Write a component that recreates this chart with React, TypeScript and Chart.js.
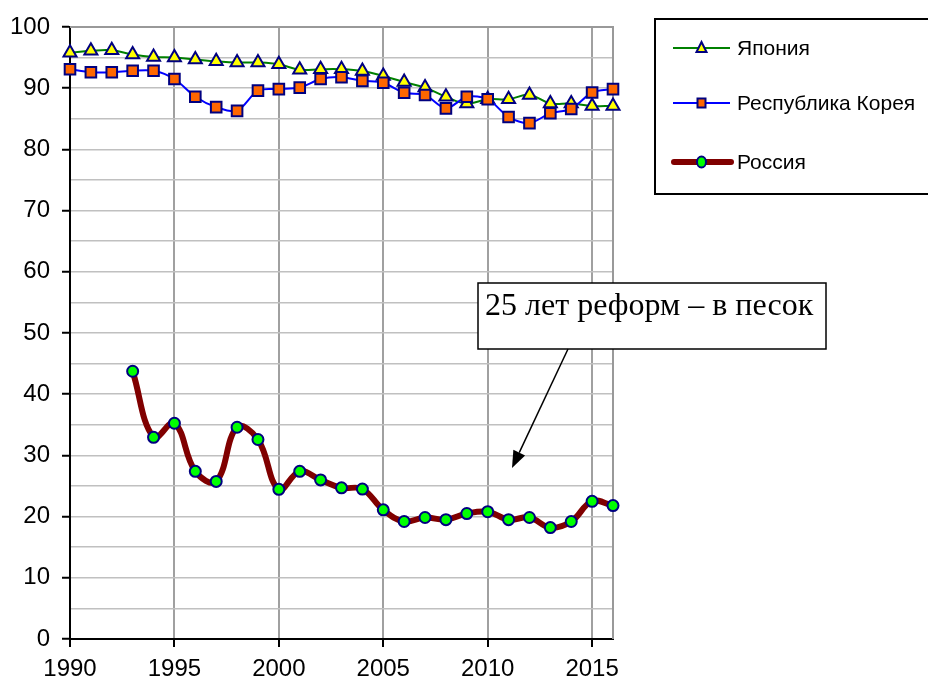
import React, { useEffect, useRef } from "react";
import { Chart, registerables } from "chart.js";

Chart.register(...registerables);

const years = [1990, 1991, 1992, 1993, 1994, 1995, 1996, 1997, 1998, 1999, 2000, 2001, 2002, 2003, 2004, 2005, 2006, 2007, 2008, 2009, 2010, 2011, 2012, 2013, 2014, 2015, 2016];
const xTickYears = [1990, 1995, 2000, 2005, 2010, 2015];

const japan = [95.8, 96.1, 96.2, 95.5, 95.1, 95.0, 94.7, 94.4, 94.2, 94.2, 93.9, 93.0, 93.1, 93.1, 92.8, 92.0, 91.0, 90.1, 88.6, 87.5, 88.2, 88.2, 88.9, 87.5, 87.5, 87.1, 87.1];
const korea = [93.1, 92.6, 92.6, 92.85, 92.85, 91.5, 88.6, 86.9, 86.3, 89.6, 89.85, 90.1, 91.5, 91.8, 91.2, 90.9, 89.25, 88.9, 86.7, 88.6, 88.2, 85.3, 84.3, 85.9, 86.6, 89.3, 89.85];
const russia = [null, null, null, 43.75, 32.95, 35.25, 27.4, 25.75, 34.6, 32.6, 24.45, 27.4, 26.0, 24.7, 24.5, 21.1, 19.2, 19.85, 19.5, 20.5, 20.8, 19.5, 19.85, 18.2, 19.2, 22.5, 21.8];

const seriesNames = ["Япония", "Республика Корея", "Россия"];
const annotationText = "25 лет реформ – в песок";

const toPoints = (vals: (number | null)[]) =>
  years.map((y, i) => ({ x: y, y: vals[i] }));

const decorPlugin = {
  id: "decor",
  beforeDatasetsDraw(chart: any) {
    const { ctx, chartArea, scales } = chart;
    const xs = scales.x;
    const ys = scales.y;
    ctx.save();
    ctx.strokeStyle = "#999999";
    ctx.lineWidth = 2;
    ctx.beginPath();
    ctx.moveTo(chartArea.left, ys.getPixelForValue(100));
    ctx.lineTo(xs.getPixelForValue(2016), ys.getPixelForValue(100));
    ctx.lineTo(xs.getPixelForValue(2016), chartArea.bottom);
    ctx.stroke();
    ctx.restore();
  },
  afterDatasetsDraw(chart: any) {
    const { ctx } = chart;
    ctx.save();
    // annotation box
    ctx.fillStyle = "#ffffff";
    ctx.fillRect(478, 283, 348, 66);
    ctx.strokeStyle = "#000000";
    ctx.lineWidth = 1.5;
    ctx.strokeRect(478, 283, 348, 66);
    ctx.fillStyle = "#000000";
    ctx.font = "32px 'Liberation Serif'";
    ctx.textBaseline = "alphabetic";
    ctx.textAlign = "left";
    ctx.fillText(annotationText, 485, 315);

    // arrow
    const x0 = 568, y0 = 349, x1 = 512, y1 = 468;
    const ang = Math.atan2(y1 - y0, x1 - x0);
    const len = 17, half = 6.5;
    const bx = x1 - len * Math.cos(ang), by = y1 - len * Math.sin(ang);
    ctx.lineWidth = 1.5;
    ctx.beginPath();
    ctx.moveTo(x0, y0);
    ctx.lineTo(bx, by);
    ctx.stroke();
    ctx.beginPath();
    ctx.moveTo(x1, y1);
    ctx.lineTo(bx + half * Math.sin(ang), by - half * Math.cos(ang));
    ctx.lineTo(bx - half * Math.sin(ang), by + half * Math.cos(ang));
    ctx.closePath();
    ctx.fill();

    // legend
    ctx.lineWidth = 2;
    ctx.strokeStyle = "#000";
    ctx.strokeRect(655, 19, 300, 175);
    ctx.font = "21px 'Liberation Sans'";
    ctx.fillStyle = "#000";
    const lx0 = 673, lx1 = 730, lcx = 701.5, tx = 737;
    // Japan
    let yy = 48;
    ctx.strokeStyle = "#008000";
    ctx.lineWidth = 2;
    ctx.beginPath(); ctx.moveTo(lx0, yy); ctx.lineTo(lx1, yy); ctx.stroke();
    ctx.beginPath();
    ctx.moveTo(lcx, yy - 6); ctx.lineTo(lcx + 5, yy + 4); ctx.lineTo(lcx - 5, yy + 4); ctx.closePath();
    ctx.fillStyle = "#ffff00"; ctx.fill();
    ctx.strokeStyle = "#000080"; ctx.stroke();
    ctx.fillStyle = "#000";
    ctx.fillText(seriesNames[0], tx, 55);
    // Korea
    yy = 103;
    ctx.strokeStyle = "#0000ff";
    ctx.beginPath(); ctx.moveTo(lx0, yy); ctx.lineTo(lx1, yy); ctx.stroke();
    ctx.fillStyle = "#ff6600";
    ctx.fillRect(lcx - 4, yy - 4.5, 8, 9);
    ctx.strokeStyle = "#000080";
    ctx.strokeRect(lcx - 4, yy - 4.5, 8, 9);
    ctx.fillStyle = "#000";
    ctx.fillText(seriesNames[1], tx, 110);
    // Russia
    yy = 162;
    ctx.strokeStyle = "#800000";
    ctx.lineWidth = 6;
    ctx.lineCap = "round";
    ctx.beginPath(); ctx.moveTo(lx0 + 1, yy); ctx.lineTo(lx1 + 1, yy); ctx.stroke();
    ctx.lineCap = "butt";
    ctx.lineWidth = 2;
    ctx.beginPath();
    ctx.ellipse(lcx, yy, 4.5, 5.5, 0, 0, Math.PI * 2);
    ctx.fillStyle = "#00ff00"; ctx.fill();
    ctx.strokeStyle = "#000080"; ctx.stroke();
    ctx.fillStyle = "#000";
    ctx.fillText(seriesNames[2], tx, 169);
    ctx.restore();
  },
};

export default function App() {
  const ref = useRef<HTMLCanvasElement | null>(null);
  useEffect(() => {
    if (!ref.current) return;
    const chart = new Chart(ref.current, {
      type: "line",
      data: {
        datasets: [
          {
            label: seriesNames[2],
            data: toPoints(russia) as any,
            borderColor: "#800000",
            borderWidth: 6,
            tension: 0.4,
            pointStyle: "circle",
            pointRadius: 5.5,
            pointBackgroundColor: "#00ff00",
            pointBorderColor: "#000080",
            pointBorderWidth: 2,
            order: 0,
            spanGaps: false,
            clip: false as any,
          },
          {
            label: seriesNames[1],
            data: toPoints(korea) as any,
            borderColor: "#0000ff",
            borderWidth: 2,
            tension: 0.3,
            pointStyle: "rect",
            pointRadius: 7.5,
            pointBackgroundColor: "#ff6600",
            pointBorderColor: "#000080",
            pointBorderWidth: 2,
            order: 1,
            clip: false as any,
          },
          {
            label: seriesNames[0],
            data: toPoints(japan) as any,
            borderColor: "#008000",
            borderWidth: 2,
            tension: 0.4,
            pointStyle: "triangle",
            pointRadius: 7.5,
            pointBackgroundColor: "#ffff00",
            pointBorderColor: "#000080",
            pointBorderWidth: 2,
            order: 2,
            clip: false as any,
          },
        ],
      },
      options: {
        animation: false,
        responsive: false,
        devicePixelRatio: 1,
        layout: { padding: { top: 27, right: 315, left: 0, bottom: 0 } },
        plugins: { legend: { display: false }, tooltip: { enabled: false } },
        scales: {
          x: {
            type: "linear",
            min: 1990,
            max: 2016,
            afterBuildTicks: (scale: any) => {
              scale.ticks = xTickYears.map((v) => ({ value: v }));
            },
            afterFit: (scale: any) => {
              scale.height = 40;
            },
            grid: {
              color: "#a0a0a0",
              lineWidth: 2,
              tickColor: "#000",
              tickLength: 8,
              tickWidth: 2,
            },
            border: { color: "#000", width: 2 },
            ticks: {
              font: { family: "'Liberation Sans'", size: 24 },
              color: "#000",
              padding: 8,
              maxRotation: 0,
              autoSkip: false,
              callback: (v: any) => String(v),
            },
          },
          y: {
            min: 0,
            max: 100,
            afterFit: (scale: any) => {
              scale.width = 70;
            },
            grid: {
              color: "#c0c0c0",
              lineWidth: 1.5,
              tickColor: (c: any) => (c.tick && c.tick.value % 10 === 0 ? "#000" : "rgba(0,0,0,0)"),
              tickLength: 8,
              tickWidth: 2,
            },
            border: { color: "#000", width: 2 },
            ticks: {
              stepSize: 5,
              autoSkip: false,
              font: { family: "'Liberation Sans'", size: 24 },
              color: "#000",
              padding: 12,
              callback: (v: any) => (Number(v) % 10 === 0 ? String(v) : ""),
            },
          },
        },
      },
      plugins: [decorPlugin],
    });
    return () => chart.destroy();
  }, []);
  return (
    <div style={{ position: "fixed", left: 0, top: 0, width: 928, height: 679, background: "#fff" }}>
      <canvas ref={ref} width={928} height={679} style={{ width: 928, height: 679 }} />
    </div>
  );
}
